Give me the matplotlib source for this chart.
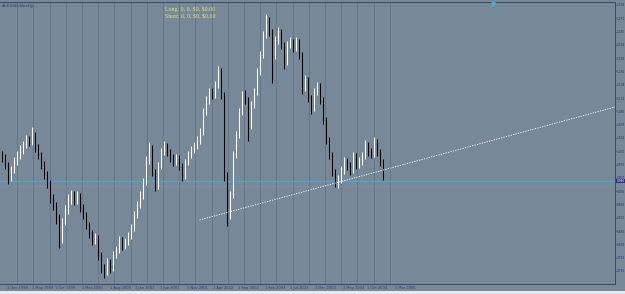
import numpy as np
import matplotlib
matplotlib.use("Agg")
import matplotlib.pyplot as plt
from matplotlib.patches import Rectangle

# ── data (weekly bars) ───────────────────────────────────────────────────────
first_open = 0.998
closes = [
    0.992, 0.978, 0.952, 0.968, 0.984, 0.998, 1.008, 1.018, 1.028, 1.024,
    1.038, 1.012, 0.998, 0.978, 0.958, 0.942, 0.912, 0.898, 0.872, 0.828,
    0.864, 0.888, 0.908, 0.916, 0.908, 0.916, 0.892, 0.878, 0.858, 0.840,
    0.828, 0.832, 0.798, 0.772, 0.764, 0.784, 0.772, 0.798, 0.808, 0.828,
    0.816, 0.824, 0.836, 0.852, 0.878, 0.898, 0.916, 0.944, 0.988, 1.012,
    0.964, 0.936, 0.976, 1.004, 1.016, 1.004, 0.992, 0.984, 0.992, 0.976,
    0.956, 0.984, 0.998, 1.008, 1.016, 1.028, 1.044, 1.084, 1.108, 1.124,
    1.118, 1.138, 1.168, 1.118, 0.958, 0.878, 0.918, 0.998, 1.038, 1.084,
    1.118, 1.108, 1.058, 1.098, 1.124, 1.164, 1.198, 1.238, 1.268, 1.244,
    1.198, 1.228, 1.244, 1.218, 1.184, 1.218, 1.224, 1.212, 1.224, 1.198,
    1.132, 1.148, 1.112, 1.092, 1.124, 1.136, 1.108, 1.068, 1.028, 0.998,
    0.964, 0.944, 0.948, 0.968, 0.984, 0.976, 0.968, 0.996, 0.978, 0.984,
    0.996, 1.018, 1.004, 1.000, 1.024, 1.004, 0.984, 0.952,
]
highs = [
    1.006, 1.000, 0.984, 0.976, 0.994, 1.006, 1.018, 1.026, 1.038, 1.036,
    1.054, 1.044, 1.020, 1.004, 0.986, 0.966, 0.948, 0.920, 0.904, 0.880,
    0.872, 0.898, 0.920, 0.928, 0.926, 0.926, 0.922, 0.900, 0.884, 0.864,
    0.848, 0.842, 0.838, 0.804, 0.780, 0.792, 0.790, 0.806, 0.816, 0.836,
    0.834, 0.832, 0.844, 0.860, 0.886, 0.906, 0.926, 0.952, 0.996, 1.024,
    1.018, 0.970, 0.984, 1.012, 1.026, 1.022, 1.010, 1.000, 1.000, 0.998,
    0.982, 0.990, 1.006, 1.016, 1.024, 1.036, 1.052, 1.092, 1.116, 1.132,
    1.132, 1.146, 1.176, 1.172, 1.124, 0.964, 0.926, 1.006, 1.046, 1.092,
    1.126, 1.128, 1.114, 1.106, 1.132, 1.172, 1.206, 1.246, 1.280, 1.274,
    1.250, 1.236, 1.254, 1.250, 1.224, 1.226, 1.234, 1.230, 1.234, 1.230,
    1.204, 1.158, 1.154, 1.118, 1.132, 1.144, 1.142, 1.114, 1.074, 1.034,
    1.004, 0.970, 0.958, 0.976, 0.994, 0.992, 0.984, 1.004, 1.002, 0.994,
    1.004, 1.028, 1.024, 1.012, 1.034, 1.030, 1.010, 0.990,
]
lows = [
    0.984, 0.970, 0.940, 0.946, 0.962, 0.978, 0.990, 1.000, 1.012, 1.016,
    1.018, 1.004, 0.990, 0.970, 0.950, 0.932, 0.902, 0.888, 0.860, 0.812,
    0.822, 0.858, 0.880, 0.900, 0.898, 0.900, 0.884, 0.870, 0.850, 0.832,
    0.818, 0.820, 0.788, 0.762, 0.752, 0.758, 0.762, 0.766, 0.792, 0.802,
    0.808, 0.810, 0.818, 0.830, 0.846, 0.872, 0.892, 0.910, 0.938, 0.980,
    0.956, 0.926, 0.930, 0.970, 0.998, 0.996, 0.984, 0.976, 0.978, 0.968,
    0.946, 0.950, 0.978, 0.992, 1.002, 1.010, 1.020, 1.038, 1.078, 1.100,
    1.110, 1.112, 1.132, 1.110, 0.946, 0.856, 0.870, 0.912, 0.992, 1.032,
    1.078, 1.100, 1.026, 1.050, 1.092, 1.118, 1.158, 1.192, 1.232, 1.236,
    1.142, 1.190, 1.220, 1.210, 1.170, 1.178, 1.212, 1.204, 1.206, 1.190,
    1.120, 1.126, 1.104, 1.080, 1.086, 1.118, 1.100, 1.060, 1.020, 0.990,
    0.956, 0.934, 0.932, 0.942, 0.960, 0.968, 0.958, 0.962, 0.970, 0.972,
    0.978, 0.990, 0.996, 0.992, 0.994, 0.996, 0.976, 0.948,
]

bid_level = 0.946
ask_level = 0.936
trend_x = [66.0, 204.5]
trend_y = [0.868, 1.094]

date_labels = ["1 Dec 1998", "1 May 1999", "1 Oct 1999", "1 Mar 2000",
               "1 Aug 2000", "1 Jan 2001", "1 Jun 2001", "1 Nov 2001",
               "1 Apr 2002", "1 Sep 2002", "1 Feb 2003", "1 Jul 2003",
               "1 Dec 2003", "1 May 2004", "1 Oct 2004", "1 Mar 2005"]
date_pos = [1.8, 10.2, 17.8, 26.8, 36.2, 44.5, 52.8, 61.8, 70.5, 78.8,
            87.8, 96.2, 104.5, 113.8, 121.8, 131.2]

BG = "#778899"
price = np.array(closes)
opens = np.array([first_open] + closes[:-1])
x = np.arange(len(closes))

fig = plt.figure(figsize=(6.25, 2.94), dpi=100, facecolor=BG)
ax = fig.add_axes([0.0, 1 - 284 / 294, 615 / 625, 282 / 294], facecolor=BG)

# vertical grid (only over the history)
for gx in np.arange(5.2, 130, 5.4):
    ax.axvline(gx, color="#66778A", lw=0.8, zorder=1)

# bars: white up, black down
cols = np.where(price >= opens, "#FFFFFF", "#000000")
ax.vlines(x, lows, highs, colors=cols, lw=0.75, zorder=3)

# bid / ask lines
ax.axhline(bid_level, color="#4FA6CC", lw=1.0, zorder=2)
ax.axhline(ask_level, color="#8E8FA6", lw=0.5, alpha=0.7, zorder=2)

# trendline
ax.plot(trend_x, trend_y, color="white", lw=0.6, ls=(0, (1.5, 1.5)), zorder=4)

ax.set_xlim(-0.5, 204.5)
ax.set_ylim(0.740, 1.304)

# right price scale
yt = np.arange(1.298, 0.740, -0.0266)
ax.yaxis.tick_right()
ax.set_yticks(yt)
ax.set_yticklabels([f"{v:.3f}" for v in yt])
ax.tick_params(axis="y", labelsize=2.1, colors="#2C3A6A", length=1.0, pad=0.4)

# bottom date scale
ax.set_xticks(date_pos)
ax.set_xticklabels(date_labels, ha="left")
ax.tick_params(axis="x", labelsize=2.6, colors="#2C3A6A", length=0, pad=1.5)

for s in ax.spines.values():
    s.set_color("#3A4A60")
    s.set_linewidth(0.7)
ax.spines["left"].set_visible(False)

# current price tag
ax.text(205.0, bid_level, f"{bid_level:.3f}", fontsize=2.1, color="white",
        va="center", ha="left", clip_on=False,
        bbox=dict(boxstyle="square,pad=0.1", fc="#2B2F8C", ec="none"))

# labels in the chart
ax.text(0.003, 0.993, "AUDUSD,Weekly", transform=ax.transAxes, fontsize=2.8,
        color="#2C3A6A", va="top", ha="left")
ax.text(0.268, 0.985, r"Long: 0, 0, \$0, \$0.00", transform=ax.transAxes,
        fontsize=4.2, family="Liberation Serif", color="#E8E86A", va="top")
ax.text(0.268, 0.957, r"Short: 0, 0, \$0, \$0.00", transform=ax.transAxes,
        fontsize=4.2, family="Liberation Serif", color="#E8E86A", va="top")
ax.plot([163.8], [1.301], marker="v", ms=2.5, color="#2FB8E8",
        clip_on=False, zorder=5)

# white strip at the very bottom of the window
fig.patches.append(Rectangle((0, 0), 1, 3 / 294, transform=fig.transFigure,
                             fc="#E8E8E8", ec="none"))

fig.savefig("out.png", dpi=100, facecolor=BG)
